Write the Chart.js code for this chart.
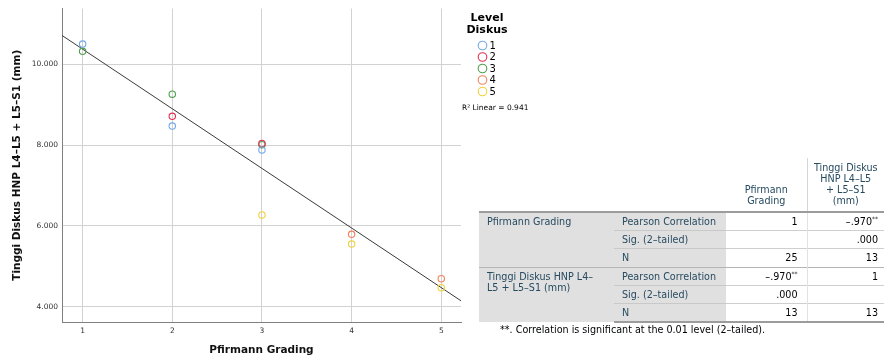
<!DOCTYPE html>
<html>
<head>
<meta charset="utf-8">
<script src="https://cdn.jsdelivr.net/npm/chart.js@4.4.1/dist/chart.umd.min.js"></script>
<style>
  html, body { margin: 0; padding: 0; background: #fff; }
  #wrap { position: relative; width: 886px; height: 358px; overflow: hidden; }
  #scatter { position: absolute; left: 0; top: 0; }
  #corr {
    position: absolute; left: 479px; top: 158px;
    border-collapse: collapse; table-layout: fixed;
    font-family: "DejaVu Sans", sans-serif; font-size: 9.6px; line-height: 11px;
    color: #264a60;
  }
  #corr th { font-weight: normal; vertical-align: bottom; text-align: center; padding: 0 2px 5px 2px; height: 48px; }
  #corr th.sep { border-left: 1px solid #d6d6d6; }
  #corr td { height: 17.2px; padding: 0 6px; white-space: nowrap; }
  #corr td.var { background: #e0e0e0; vertical-align: top; padding-top: 3px; padding-left: 8px; }
  #corr td.stat { background: #e0e0e0; border-top: 1px solid #c9c9c9; padding-left: 8px; }
  #corr td.val { text-align: right; color: #010205; border-top: 1px solid #cfcfcf; padding-right: 9px; }
  #corr td.val.last { border-left: 1px solid #e2e2e2; padding-right: 6px; }
  #corr tr.first td { border-top: 2px solid #9c9c9c; }
  #corr tr.group td { border-top: 1px solid #b5b5b5; }
  #corr tbody tr:last-child td { border-bottom: 2px solid #9c9c9c; }
  #corr sup { font-size: 6px; line-height: 0; vertical-align: 4px; }
  #note {
    position: absolute; left: 500px; top: 324px;
    font-family: "DejaVu Sans", sans-serif; font-size: 9.6px; color: #010205; white-space: nowrap;
  }
</style>
</head>
<body>
<div id="wrap">
  <canvas id="scatter" width="886" height="358"></canvas>
  <table id="corr"></table>
  <div id="note"></div>
</div>
<script>
// Disc height (mm) per Pfirrmann grade, one pair of arrays per disc level
const levelNames = ['1', '2', '3', '4', '5'];
const level1Grade = [1, 2, 3];
const level1Height = [10.50, 8.47, 7.88];
const level2Grade = [2, 3];
const level2Height = [8.71, 8.04];
const level3Grade = [1, 2, 3];
const level3Height = [10.32, 9.26, 8.01];
const level4Grade = [4, 5];
const level4Height = [5.79, 4.69];
const level5Grade = [3, 4, 5];
const level5Height = [6.27, 5.55, 4.47];

const levelColors = ['#74a8e8', '#e3324f', '#4f9f4f', '#f2825a', '#f0d23c'];

const gradeTicks = [1, 2, 3, 4, 5];
const heightTicks = [4, 6, 8, 10];
const rSquaredText = '0.941';

// Correlation table
const tableVariables = [['Pfirmann Grading'], ['Tinggi Diskus HNP L4–', 'L5 + L5–S1 (mm)']];
const headerPfirmann = ['Pfirmann', 'Grading'];
const headerTinggi = ['Tinggi Diskus', 'HNP L4–L5', '+ L5–S1', '(mm)'];
const statNames = ['Pearson Correlation', 'Sig. (2–tailed)', 'N'];
const pearsonR = [[1, -0.970], [-0.970, 1]];
const sigValue = [[null, 0.000], [0.000, null]];
const nCount = [[25, 13], [13, 13]];
const noteText = '**. Correlation is significant at the 0.01 level (2–tailed).';

const FONT = '"DejaVu Sans", sans-serif';

const gradeSets = [level1Grade, level2Grade, level3Grade, level4Grade, level5Grade];
const heightSets = [level1Height, level2Height, level3Height, level4Height, level5Height];

function toPoints(xs, ys) { return xs.map((x, i) => ({ x: x, y: ys[i] })); }

// least-squares line through every observation
function linearFit(xs, ys) {
  const n = xs.length;
  const mx = xs.reduce((a, b) => a + b, 0) / n;
  const my = ys.reduce((a, b) => a + b, 0) / n;
  let sxy = 0, sxx = 0;
  for (let i = 0; i < n; i++) { sxy += (xs[i] - mx) * (ys[i] - my); sxx += (xs[i] - mx) ** 2; }
  const slope = sxy / sxx;
  return { slope: slope, intercept: my - slope * mx };
}

const allGrades = [].concat(...gradeSets);
const allHeights = [].concat(...heightSets);
const fit = linearFit(allGrades, allHeights);

const X_MIN = 0.77, X_MAX = 5.22, Y_MIN = 3.62, Y_MAX = 11.38;

const datasets = levelNames.map((name, i) => ({
  type: 'scatter',
  label: name,
  data: toPoints(gradeSets[i], heightSets[i]),
  borderColor: levelColors[i],
  backgroundColor: 'rgba(0,0,0,0)',
  pointRadius: 3.2,
  pointBorderWidth: 1.1,
  pointHoverRadius: 3.2
}));
datasets.push({
  type: 'line',
  label: 'Linear',
  data: [X_MIN, X_MAX].map(x => ({ x: x, y: fit.intercept + fit.slope * x })),
  borderColor: '#3a3a3a',
  borderWidth: 1,
  pointRadius: 0,
  fill: false
});

// legend block and R² note to the right of the plot
const levelLegend = {
  id: 'levelLegend',
  afterDraw(chart) {
    const ctx = chart.ctx;
    const cx = chart.chartArea.right + 26;
    ctx.save();
    ctx.fillStyle = '#000';
    ctx.textAlign = 'center';
    ctx.textBaseline = 'middle';
    ctx.font = 'bold 11px ' + FONT;
    ctx.fillText('Level', cx, 18);
    ctx.fillText('Diskus', cx, 30);
    ctx.font = '10px ' + FONT;
    ctx.textAlign = 'left';
    levelNames.forEach((name, i) => {
      const y = 45.5 + i * 11.5;
      ctx.beginPath();
      ctx.arc(cx - 4.5, y, 4.3, 0, Math.PI * 2);
      ctx.strokeStyle = levelColors[i];
      ctx.lineWidth = 1.1;
      ctx.stroke();
      ctx.fillStyle = '#000';
      ctx.fillText(name, cx + 2.5, y + 0.5);
    });
    ctx.font = '7.5px ' + FONT;
    ctx.textAlign = 'left';
    ctx.fillText('R² Linear = ' + rSquaredText, chart.chartArea.right + 1, 108);
    ctx.restore();
  }
};

new Chart(document.getElementById('scatter'), {
  data: { datasets: datasets },
  options: {
    responsive: false,
    animation: false,
    events: [],
    layout: { padding: { left: 0, right: 425, top: 8, bottom: 0 } },
    plugins: { legend: { display: false }, tooltip: { enabled: false } },
    scales: {
      x: {
        type: 'linear',
        min: X_MIN, max: X_MAX,
        afterBuildTicks: s => { s.ticks = gradeTicks.map(v => ({ value: v })); },
        afterFit: s => { s.height = 36; },
        grid: { color: '#d2d2d2', lineWidth: 1, drawTicks: false },
        border: { color: '#808080', width: 1 },
        ticks: { padding: 5, color: '#333', font: { family: FONT, size: 7.5 }, callback: v => String(v) },
        title: {
          display: true, text: 'Pfirmann Grading', color: '#111',
          font: { family: FONT, size: 10.5, weight: 'bold' }, padding: { top: 0, bottom: 1 }
        }
      },
      y: {
        type: 'linear',
        min: Y_MIN, max: Y_MAX,
        afterBuildTicks: s => { s.ticks = heightTicks.map(v => ({ value: v })); },
        afterFit: s => { s.width = 62; },
        grid: { color: '#d2d2d2', lineWidth: 1, drawTicks: false },
        border: { color: '#808080', width: 1 },
        ticks: { padding: 4, color: '#333', font: { family: FONT, size: 7.5 }, callback: v => Number(v).toFixed(3) },
        title: {
          display: true, text: 'Tinggi Diskus HNP L4–L5 + L5–S1 (mm)', color: '#111',
          font: { family: FONT, size: 10.5, weight: 'bold' }, padding: { top: 10.5, bottom: 0 }
        }
      }
    }
  },
  plugins: [levelLegend]
});

// build the correlations table
function fmtR(v) {
  if (v === 1) return '1';
  const s = Math.abs(v).toFixed(3).replace(/^0/, '');
  return (v < 0 ? '–' : '') + s + '<sup>**</sup>';
}
function fmtP(v) { return v === null ? '' : v.toFixed(3).replace(/^0/, ''); }

const table = document.getElementById('corr');
let html = '<colgroup><col style="width:135px"><col style="width:112px"><col style="width:81px"><col style="width:77px"></colgroup>';
html += '<thead><tr><th></th><th></th><th>' + headerPfirmann.join('<br>') + '</th><th class="sep">' + headerTinggi.join('<br>') + '</th></tr></thead><tbody>';
tableVariables.forEach((lines, r) => {
  const cells = [
    pearsonR[r].map(fmtR),
    sigValue[r].map(fmtP),
    nCount[r].map(String)
  ];
  statNames.forEach((stat, k) => {
    const cls = k === 0 ? (r === 0 ? 'first' : 'group') : '';
    html += '<tr class="' + cls + '">';
    if (k === 0) html += '<td class="var" rowspan="3">' + lines.join('<br>') + '</td>';
    html += '<td class="stat">' + stat + '</td>';
    html += '<td class="val">' + cells[k][0] + '</td>';
    html += '<td class="val last">' + cells[k][1] + '</td></tr>';
  });
});
html += '</tbody>';
table.innerHTML = html;
document.getElementById('note').textContent = noteText;
</script>
</body>
</html>
